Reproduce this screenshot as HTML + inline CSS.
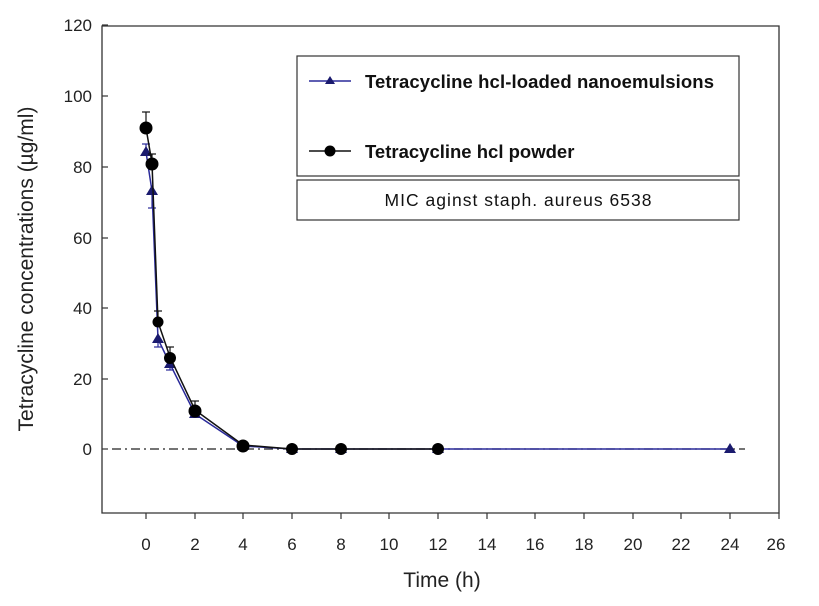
<!DOCTYPE html>
<html><head><meta charset="utf-8"><style>body{margin:0;background:#fff}svg{display:block}</style></head>
<body>
<svg width="819" height="606" viewBox="0 0 819 606" xmlns="http://www.w3.org/2000/svg" font-family="Liberation Sans, Arial, sans-serif">
<rect width="819" height="606" fill="#fff"/>
<path d="M102 26 H779 V513 H102 Z" fill="none" stroke="#333" stroke-width="1.3"/>
<g stroke="#333" stroke-width="1.2">
<line x1="102" y1="25" x2="108" y2="25"/><line x1="102" y1="96" x2="108" y2="96"/><line x1="102" y1="167" x2="108" y2="167"/><line x1="102" y1="238" x2="108" y2="238"/><line x1="102" y1="308" x2="108" y2="308"/><line x1="102" y1="379" x2="108" y2="379"/><line x1="102" y1="449" x2="108" y2="449"/>
</g>
<g font-size="17" fill="#222" text-anchor="end">
<text x="92" y="31">120</text><text x="92" y="102">100</text><text x="92" y="173">80</text><text x="92" y="244">60</text><text x="92" y="314">40</text><text x="92" y="385">20</text><text x="92" y="455">0</text>
</g>
<g stroke="#333" stroke-width="1.2">
<line x1="146" y1="513" x2="146" y2="519"/><line x1="195" y1="513" x2="195" y2="519"/><line x1="243" y1="513" x2="243" y2="519"/><line x1="292" y1="513" x2="292" y2="519"/><line x1="341" y1="513" x2="341" y2="519"/><line x1="389" y1="513" x2="389" y2="519"/><line x1="438" y1="513" x2="438" y2="519"/><line x1="487" y1="513" x2="487" y2="519"/><line x1="535" y1="513" x2="535" y2="519"/><line x1="584" y1="513" x2="584" y2="519"/><line x1="633" y1="513" x2="633" y2="519"/><line x1="681" y1="513" x2="681" y2="519"/><line x1="730" y1="513" x2="730" y2="519"/><line x1="779" y1="513" x2="779" y2="519"/>
</g>
<g font-size="17" fill="#222" text-anchor="middle">
<text x="146" y="550">0</text><text x="195" y="550">2</text><text x="243" y="550">4</text><text x="292" y="550">6</text><text x="341" y="550">8</text><text x="389" y="550">10</text><text x="438" y="550">12</text><text x="487" y="550">14</text><text x="535" y="550">16</text><text x="584" y="550">18</text><text x="633" y="550">20</text><text x="681" y="550">22</text><text x="730" y="550">24</text><text x="776" y="550">26</text>
</g>
<text x="442" y="587" font-size="21" text-anchor="middle" fill="#222">Time (h)</text>
<text transform="translate(33 269) rotate(-90)" font-size="21" text-anchor="middle" fill="#222">Tetracycline concentrations (µg/ml)</text>
<line x1="112" y1="449" x2="745" y2="449" stroke="#222" stroke-width="1.2" stroke-dasharray="9 4 2 4"/>
<polyline points="146,152 152,191 158,339 170,364 195,414 243,446 292,449 341,449 438,449 730,449" fill="none" stroke="#2a2a9a" stroke-width="1.5"/>
<g stroke="#2a2a9a" stroke-width="1.2">
<line x1="146" y1="152" x2="146" y2="144"/><line x1="142" y1="144" x2="150" y2="144"/>
<line x1="152" y1="191" x2="152" y2="208"/><line x1="148" y1="208" x2="156" y2="208"/>
<line x1="158" y1="339" x2="158" y2="347"/><line x1="154" y1="347" x2="162" y2="347"/>
<line x1="170" y1="364" x2="170" y2="370"/><line x1="166" y1="370" x2="174" y2="370"/>
</g>
<g fill="#1a1a6e">
<path d="M146 146 l6 10 h-12z"/><path d="M152 185 l6 10 h-12z"/><path d="M158 333 l6 10 h-12z"/><path d="M170 358 l6 10 h-12z"/><path d="M195 408 l6 10 h-12z"/><path d="M243 440 l6 10 h-12z"/><path d="M292 443 l6 10 h-12z"/><path d="M341 443 l6 10 h-12z"/><path d="M438 443 l6 10 h-12z"/><path d="M730 443 l6 10 h-12z"/>
</g>
<polyline points="146,128 152,163 158,322 170,357 195,410 243,445 292,449 341,449 438,449" fill="none" stroke="#111" stroke-width="1.5"/>
<g stroke="#111" stroke-width="1.2">
<line x1="146" y1="128" x2="146" y2="112"/><line x1="142" y1="112" x2="150" y2="112"/>
<line x1="152" y1="163" x2="152" y2="154"/><line x1="148" y1="154" x2="156" y2="154"/>
<line x1="158" y1="322" x2="158" y2="311"/><line x1="154" y1="311" x2="162" y2="311"/>
<line x1="170" y1="357" x2="170" y2="347"/><line x1="166" y1="347" x2="174" y2="347"/>
<line x1="195" y1="410" x2="195" y2="401"/><line x1="191" y1="401" x2="199" y2="401"/>
</g>
<g fill="#000">
<circle cx="146" cy="128" r="6.5"/><circle cx="152" cy="164" r="6.5"/><circle cx="158" cy="322" r="5.5"/><circle cx="170" cy="358" r="6"/><circle cx="195" cy="411" r="6.5"/><circle cx="243" cy="446" r="6.5"/><circle cx="292" cy="449" r="6"/><circle cx="341" cy="449" r="6"/><circle cx="438" cy="449" r="6"/>
</g>
<rect x="297" y="56" width="442" height="120" fill="#fff" stroke="#333" stroke-width="1.2"/>
<line x1="309" y1="81" x2="351" y2="81" stroke="#2a2a9a" stroke-width="1.5"/>
<path d="M330 76 l5 8 h-10z" fill="#1a1a6e"/>
<text x="365" y="88" font-size="18.5" font-weight="bold" fill="#111" textLength="349">Tetracycline hcl-loaded nanoemulsions</text>
<line x1="309" y1="151" x2="351" y2="151" stroke="#111" stroke-width="1.5"/>
<circle cx="330" cy="151" r="5.5" fill="#000"/>
<text x="365" y="158" font-size="18.5" font-weight="bold" fill="#111">Tetracycline hcl powder</text>
<rect x="297" y="180" width="442" height="40" fill="#fff" stroke="#333" stroke-width="1.2"/>
<text x="518" y="206" font-size="17.5" text-anchor="middle" fill="#111" textLength="267">MIC aginst staph. aureus 6538</text>
</svg>
</body></html>
